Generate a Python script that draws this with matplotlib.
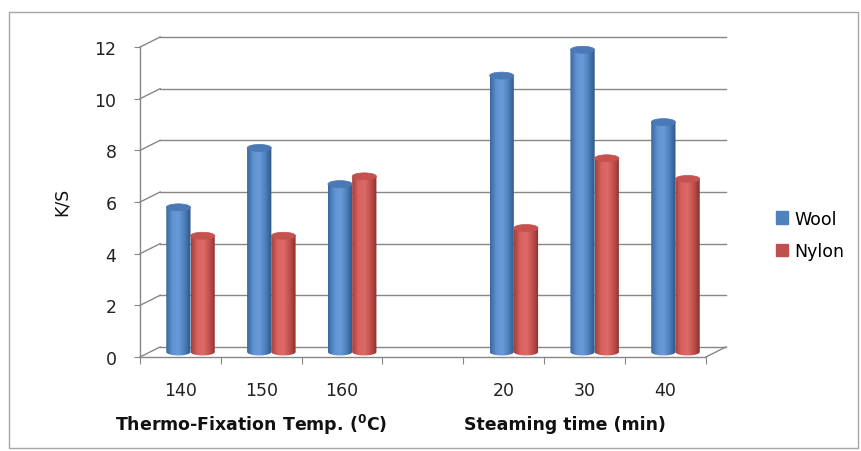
import matplotlib.pyplot as plt
import numpy as np
from matplotlib.colors import LinearSegmentedColormap
from matplotlib.patches import Ellipse, Polygon, Rectangle

categories = ['140', '150', '160', '', '20', '30', '40']
wool = [5.6, 7.9, 6.5, None, 10.7, 11.7, 8.9]
nylon = [4.5, 4.5, 6.8, None, 4.8, 7.5, 6.7]
yticks = [0, 2, 4, 6, 8, 10, 12]
group_titles = [r'Thermo-Fixation Temp. ($^{\mathbf{0}}$C)', 'Steaming time (min)']

GRID = '#878787'
DX = 0.25    # depth offset in category units
DY = 0.39    # depth offset in value units
W = 0.3      # cylinder width
EH = 0.27    # cap ellipse height

blue_cmap = LinearSegmentedColormap.from_list(
    'b', ['#3a669e', '#5f92d2', '#6a9bd8', '#4d7fbd', '#2e5585'])
red_cmap = LinearSegmentedColormap.from_list(
    'r', ['#a53f3c', '#d8625f', '#dc6a67', '#c14f4c', '#873230'])


def cylinder(ax, xc, h, cmap, cap_color, z):
    base = DY / 2
    top = base + h
    x0, x1 = xc - W / 2, xc + W / 2
    t = np.linspace(np.pi, 2 * np.pi, 40)
    arc = np.column_stack([xc + W / 2 * np.cos(t), base + EH / 2 * np.sin(t)])
    pts = np.vstack([[x0, top], arc, [x1, top]])
    poly = Polygon(pts, closed=True, facecolor='none', edgecolor='none')
    ax.add_patch(poly)
    grad = np.linspace(0, 1, 60).reshape(1, -1)
    im = ax.imshow(grad, cmap=cmap, extent=[x0, x1, base - EH, top],
                   aspect='auto', origin='lower', zorder=z)
    im.set_clip_path(poly)
    ax.add_patch(Ellipse((xc, top), W, EH, facecolor=cap_color,
                         edgecolor=cap_color, lw=0.5, zorder=z + 0.1))


def main():
    fig = plt.figure(figsize=(8.61, 4.52), dpi=100)
    ax = fig.add_axes([140 / 861, 1 - 358 / 452, (726 - 140) / 861, (358 - 38) / 452])

    n = len(categories)
    # back wall grid and left side connectors
    for v in yticks:
        ax.plot([-0.5 + DX, n - 0.5 + DX], [v + DY, v + DY], color=GRID, lw=1.0,
                zorder=1, clip_on=False)
        ax.plot([-0.5, -0.5 + DX], [v, v + DY], color=GRID, lw=1.0, zorder=1,
                clip_on=False)
    ax.plot([n - 0.5, n - 0.5 + DX], [0, DY], color=GRID, lw=1.0, zorder=1,
            clip_on=False)

    z = 3
    for i in range(n):
        if wool[i] is None:
            continue
        c = i + DX / 2
        cylinder(ax, c - W / 2, wool[i], blue_cmap, '#4a79b5', z)
        cylinder(ax, c + W / 2, nylon[i], red_cmap, '#c5524f', z + 1)
        z += 2

    ax.set_xlim(-0.5, n - 0.5 + DX)
    ax.set_ylim(0, 12 + DY)
    for s in ['top', 'right']:
        ax.spines[s].set_visible(False)
    ax.spines['left'].set_bounds(0, 12)
    ax.spines['bottom'].set_bounds(-0.5, n - 0.5)
    for s in ['left', 'bottom']:
        ax.spines[s].set_color(GRID)
        ax.spines[s].set_linewidth(1.0)

    ax.set_yticks(yticks)
    ax.set_yticklabels([str(v) for v in yticks])
    ax.tick_params(axis='y', length=4, color=GRID, pad=13, labelsize=12.5,
                   labelcolor='#222222')
    ax.set_xticks(np.arange(-0.5, n, 1))
    ax.set_xticklabels([])
    ax.set_xticks(range(n), minor=True)
    ax.set_xticklabels(categories, minor=True)
    ax.tick_params(axis='x', which='major', length=5, color=GRID)
    ax.tick_params(axis='x', which='minor', length=0, pad=17, labelsize=12.5,
                   labelcolor='#222222')

    fig.text(62 / 861, 1 - 202 / 452, 'K/S', rotation=90, ha='center',
             va='center', fontsize=12.5, color='#111111')
    fig.text(251 / 861, 1 - 425 / 452, group_titles[0], ha='center',
             va='center', fontsize=12.5, fontweight='bold', color='#111111')
    fig.text(565 / 861, 1 - 425 / 452, group_titles[1], ha='center',
             va='center', fontsize=12.5, fontweight='bold', color='#111111')

    handles = [Rectangle((0, 0), 1, 1, color='#4f81bd'),
               Rectangle((0, 0), 1, 1, color='#c0504d')]
    fig.legend(handles, ['Wool', 'Nylon'], loc='center left',
               bbox_to_anchor=(760 / 861, 1 - 236 / 452), frameon=False,
               fontsize=12.5, handlelength=0.7, handleheight=0.7,
               handletextpad=0.4, labelspacing=0.85)

    fig.patches.append(Rectangle((9 / 861, 1 - 449 / 452), (858 - 9) / 861,
                                 (449 - 13) / 452, transform=fig.transFigure,
                                 fill=False, edgecolor='#a6a6a6', lw=1.0))

    plt.savefig('out.png', dpi=100)


if __name__ == "__main__":
    main()
